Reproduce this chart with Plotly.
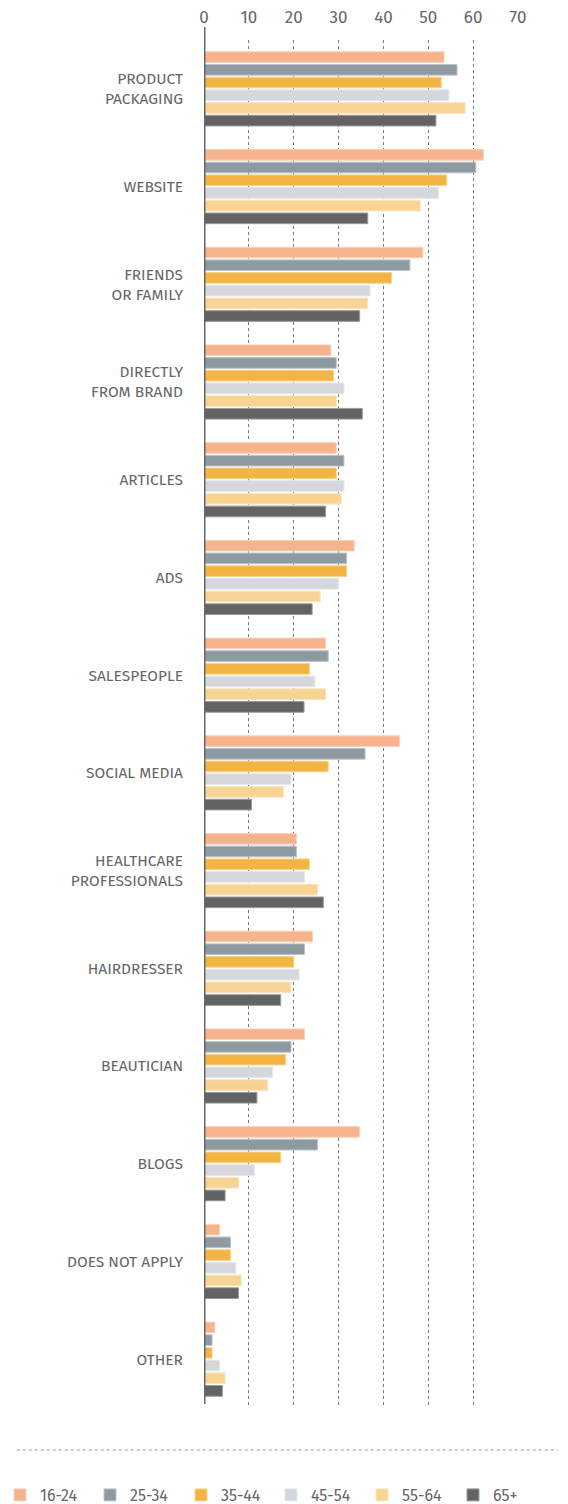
import plotly.graph_objects as go

categories = ["PRODUCT<br>PACKAGING", "WEBSITE", "FRIENDS<br>OR FAMILY", "DIRECTLY<br>FROM BRAND",
              "ARTICLES", "ADS", "SALESPEOPLE", "SOCIAL MEDIA", "HEALTHCARE<br>PROFESSIONALS",
              "HAIRDRESSER", "BEAUTICIAN", "BLOGS", "DOES NOT APPLY", "OTHER"]

age_groups = ["16-24", "25-34", "35-44", "45-54", "55-64", "65+"]

v_16_24 = [53.5, 62.3, 48.8, 28.3, 29.5, 33.5, 27.1, 43.6, 20.6, 24.2, 22.4, 34.7, 3.5, 2.4]
v_25_34 = [56.4, 60.6, 45.9, 29.5, 31.2, 31.8, 27.7, 35.9, 20.6, 22.4, 19.4, 25.3, 5.9, 1.8]
v_35_44 = [52.9, 54.1, 41.8, 28.9, 29.5, 31.8, 23.5, 27.7, 23.5, 20.0, 18.2, 17.1, 5.9, 1.8]
v_45_54 = [54.6, 52.3, 37.0, 31.2, 31.2, 30.0, 24.7, 19.4, 22.4, 21.2, 15.3, 11.2, 7.1, 3.5]
v_55_64 = [58.2, 48.2, 36.5, 29.5, 30.6, 25.9, 27.1, 17.7, 25.3, 19.4, 14.2, 7.7, 8.3, 4.7]
v_65p = [51.7, 36.5, 34.7, 35.3, 27.1, 24.1, 22.3, 10.6, 26.6, 17.1, 11.8, 4.7, 7.7, 4.1]

series = [v_16_24, v_25_34, v_35_44, v_45_54, v_55_64, v_65p]
colors = ["#F6B48E", "#8E9AA2", "#F2B544", "#D4D7DB", "#F8D494", "#636363"]
line_colors = ["#FBD3BC", "#BCC4C9", "#F8D48E", "#E6E8EA", "#FBE5BD", "#9A9A9A"]

tick_vals = [0, 10, 20, 30, 40, 50, 60, 70]
tick_text = ["0", "10", "20", "30", "40", "50", "60", "70"]

# left edge (px) of each legend entry's swatch
legend_left_px = [17, 107, 198, 288, 379, 470]

FONT = "Fira Sans, Noto Sans, sans-serif"
W, H = 568, 1504

fig = go.Figure()
legend_layout = {}
for i, (name, vals, c, lc) in enumerate(zip(age_groups, series, colors, line_colors)):
    lname = "legend" if i == 0 else f"legend{i + 1}"
    fig.add_trace(go.Bar(
        y=categories, x=vals, name=name, orientation="h",
        marker=dict(color=c, line=dict(color=lc, width=1)),
        hoverinfo="x+y+name", legend=lname,
    ))
    legend_layout[lname] = dict(
        orientation="h", xref="container", yref="container",
        x=max(0.0, (legend_left_px[i] - 17) / W), xanchor="left",
        y=(H - 1495) / H, yanchor="middle",
        font=dict(size=16, color="#666666", family=FONT),
        itemwidth=30, bgcolor="rgba(0,0,0,0)",
    )

fig.update_layout(
    template="none",
    width=W, height=H,
    paper_bgcolor="white", plot_bgcolor="white",
    margin=dict(l=204, r=50, t=40, b=96, autoexpand=False),
    barmode="group", bargap=0.22, bargroupgap=0.16,
    font=dict(family=FONT, color="#666666"),
    showlegend=True,
    xaxis=dict(
        side="top", range=[0, 70], tickvals=tick_vals, ticktext=tick_text,
        showgrid=True, gridcolor="#777777", griddash="dot", gridwidth=1,
        zeroline=False, showline=False, ticks="", automargin=False,
        tickfont=dict(size=17, color="#666666", family=FONT),
        ticklabelstandoff=13, fixedrange=True,
    ),
    yaxis=dict(
        autorange="reversed", showgrid=False, zeroline=False, showline=False, ticks="",
        tickfont=dict(size=15.5, color="#666666", family=FONT), automargin=False,
        ticklabelstandoff=20, fixedrange=True,
    ),
    shapes=[
        dict(type="line", xref="x", yref="paper", x0=0, x1=0, y0=0.003, y1=1.0095,
             line=dict(color="#666666", width=3)),
        dict(type="line", xref="paper", yref="paper", x0=-0.596, x1=1.127, y0=-0.0307, y1=-0.0307,
             line=dict(color="#999999", width=1, dash="dot")),
    ],
    **legend_layout,
)

fig.write_html("out.html", config={"displayModeBar": False},
               post_script="document.body.style.margin='0px';")
